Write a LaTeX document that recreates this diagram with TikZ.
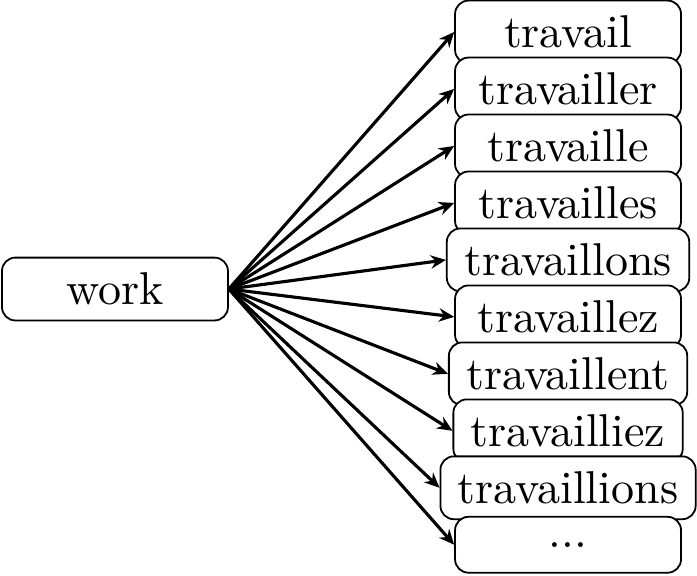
\documentclass[tikz,border=0pt]{standalone}
\usepackage{tikz}
\usetikzlibrary{arrows.meta}

\begin{document}
\begin{tikzpicture}[>={Stealth[length=3.4pt,width=3pt]},line cap=round,font=\fontsize{10.3}{12}\selectfont,
  word/.style={draw,fill=white,rounded corners=3pt,minimum width=1.777cm,minimum height=12.5pt,inner xsep=3.9pt,inner ysep=3.4pt}]
\useasboundingbox (0,0) rectangle (5.481,4.522);
\node[word] (work) at (0.904,2.249) {work};
\node[word] (w0) at (4.467,4.270) {travail};
\node[word] (w1) at (4.467,3.822) {travailler};
\node[word] (w2) at (4.467,3.374) {travaille};
\node[word] (w3) at (4.467,2.926) {travailles};
\node[word] (w4) at (4.467,2.478) {travaillons};
\node[word] (w5) at (4.467,2.030) {travaillez};
\node[word] (w6) at (4.467,1.582) {travaillent};
\node[word] (w7) at (4.467,1.134) {travailliez};
\node[word] (w8) at (4.467,0.686) {travaillions};
\node[word] (w9) at (4.467,0.238) {...};
\draw[->,line width=0.7pt] (work.east) -- (w0.west);
\draw[->,line width=0.7pt] (work.east) -- (w1.west);
\draw[->,line width=0.7pt] (work.east) -- (w2.west);
\draw[->,line width=0.7pt] (work.east) -- (w3.west);
\draw[->,line width=0.7pt] (work.east) -- (w4.west);
\draw[->,line width=0.7pt] (work.east) -- (w5.west);
\draw[->,line width=0.7pt] (work.east) -- (w6.west);
\draw[->,line width=0.7pt] (work.east) -- (w7.west);
\draw[->,line width=0.7pt] (work.east) -- (w8.west);
\draw[->,line width=0.7pt] (work.east) -- (w9.west);
\end{tikzpicture}
\end{document}
